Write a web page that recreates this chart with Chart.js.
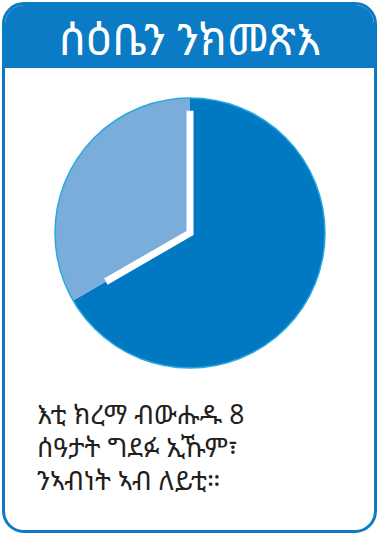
<!DOCTYPE html>
<html>
<head>
<meta charset="utf-8">
<script src="https://cdn.jsdelivr.net/npm/chart.js@4"></script>
<style>
  body { margin: 0; background: #fff; }
  .card {
    position: absolute; left: 2px; top: 2px;
    width: 369px; height: 525px;
    border: 3px solid #0a7bc4; border-radius: 22px;
    overflow: hidden; background: #fff;
    font-family: "Noto Sans Ethiopic", "Abyssinica SIL", "DejaVu Sans", sans-serif;
  }
  .titulo {
    height: 63px; background: #0a7bc4; color: #fff;
    font-size: 44px; text-align: center; line-height: 66px;
  }
  .grafico { position: absolute; left: 49px; top: 92px; width: 272px; height: 272px; }
  .texto {
    position: absolute; left: 32px; top: 393px;
    font-size: 26.5px; line-height: 33px; color: #231f20;
  }
</style>
</head>
<body>
<div class="card">
  <div class="titulo">ሰዕቤን ንክመጽእ</div>
  <div class="grafico"><canvas id="graficoSueno"></canvas></div>
  <div class="texto">እቲ ክረማ ብውሑዱ 8<br>ሰዓታት ግደፉ ኢኹም፣<br>ንኣብነት ኣብ ለይቲ።</div>
</div>
<script>
// ---------------- DADOS ----------------
const categorias = ["ካልእ ሰዓታት", "ሰዓታት ድቃስ"];
const horas = [16, 8];
const cores = ["#0079c2", "#7baddb"];

// ponteiros do relógio + contorno
const relogio = {
  id: "relogio",
  afterDatasetsDraw(chart) {
    const arcs = chart.getDatasetMeta(0).data;
    const a = arcs[0];
    const r = a.outerRadius;
    const ctx = chart.ctx;
    ctx.save();
    ctx.beginPath();
    ctx.arc(a.x, a.y, r, 0, Math.PI * 2);
    ctx.strokeStyle = "#29a8e0";
    ctx.lineWidth = 1.5;
    ctx.stroke();

    const minuto = a.startAngle;
    const hora = a.endAngle;
    ctx.beginPath();
    ctx.moveTo(a.x + Math.cos(minuto) * r * 0.905, a.y + Math.sin(minuto) * r * 0.905);
    ctx.lineTo(a.x, a.y);
    ctx.lineTo(a.x + Math.cos(hora) * r * 0.72, a.y + Math.sin(hora) * r * 0.72);
    ctx.strokeStyle = "#fff";
    ctx.lineWidth = 7;
    ctx.lineJoin = "miter";
    ctx.lineCap = "butt";
    ctx.stroke();
    ctx.restore();
  }
};

new Chart(
  document.getElementById("graficoSueno"),
  {
    type: 'pie',
    data: {
      labels: categorias,
      datasets: [{
        data: horas,
        backgroundColor: cores,
        borderWidth: 0
      }]
    },
    options: {
      responsive: true,
      maintainAspectRatio: false,
      animation: false,
      layout: { padding: 1 },
      plugins: {
        legend: { display: false },
        tooltip: { enabled: false }
      }
    },
    plugins: [relogio]
  }
);
</script>
</body>
</html>
